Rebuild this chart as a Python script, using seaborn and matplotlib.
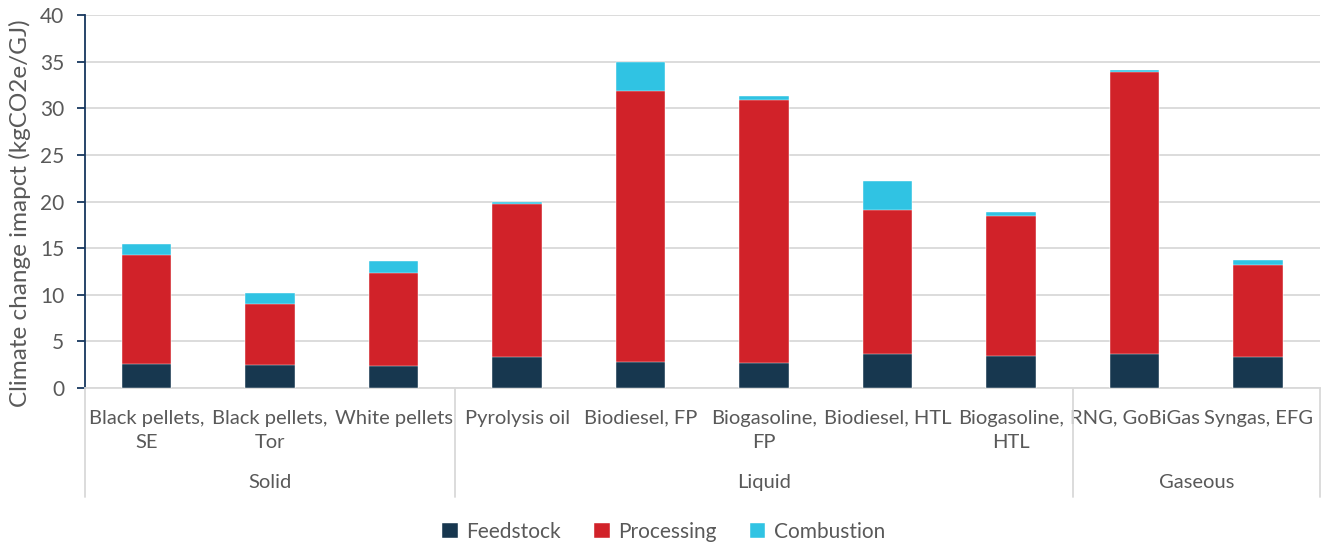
import numpy as np
import pandas as pd
import matplotlib
matplotlib.use("Agg")
import matplotlib.pyplot as plt
import seaborn as sns

# Fuel pathways, their phase group, and the stacked impact components
categories = ["Black pellets,\nSE", "Black pellets,\nTor", "White pellets",
              "Pyrolysis oil", "Biodiesel, FP", "Biogasoline,\nFP",
              "Biodiesel, HTL", "Biogasoline,\nHTL", "RNG, GoBiGas", "Syngas, EFG"]
groups = ["Solid", "Liquid", "Gaseous"]
group_sizes = [3, 5, 2]
feedstock = [2.54, 2.50, 2.39, 3.36, 2.75, 2.68, 3.60, 3.43, 3.65, 3.28]
processing = [11.76, 6.54, 9.98, 16.41, 29.10, 28.17, 15.45, 15.05, 30.20, 9.87]
combustion = [1.10, 1.11, 1.23, 0.23, 3.11, 0.45, 3.15, 0.42, 0.25, 0.58]
series = ["Feedstock", "Processing", "Combustion"]
colors = ["#17374F", "#D12229", "#30C3E3"]

sns.set_theme(style="white")
plt.rcParams["font.family"] = ["Lato", "DejaVu Sans"]

df = pd.DataFrame({"category": categories, "Feedstock": feedstock,
                   "Processing": processing, "Combustion": combustion})
# cumulative heights so each layer can be drawn on top of the previous one
df["cum_feed"] = df["Feedstock"]
df["cum_proc"] = df["cum_feed"] + df["Processing"]
df["cum_comb"] = df["cum_proc"] + df["Combustion"]

fig = plt.figure(figsize=(13.27, 5.46), dpi=100)
ax = fig.add_axes([0.064, 0.2894, 0.9306, 0.6831])

for col, color, name in [("cum_comb", colors[2], "Combustion"),
                         ("cum_proc", colors[1], "Processing"),
                         ("cum_feed", colors[0], "Feedstock")]:
    sns.barplot(data=df, x="category", y=col, order=categories, color=color,
                width=0.4, ax=ax, errorbar=None, saturation=1, label=name,
                edgecolor="white", linewidth=0.3, zorder=3)
if ax.get_legend() is not None:
    ax.get_legend().remove()

ax.set_xlim(-0.5, len(categories) - 0.5)
ax.set_ylim(0, 40)
ax.set_yticks(np.arange(0, 41, 5))
ax.grid(axis="y", color="#D9D9D9", linewidth=1.3, zorder=0)
ax.set_axisbelow(True)

for s in ["top", "right"]:
    ax.spines[s].set_visible(False)
ax.spines["left"].set_color("#17375E")
ax.spines["left"].set_linewidth(1.3)
ax.spines["bottom"].set_color("#D9D9D9")
ax.spines["bottom"].set_linewidth(1.3)

ax.tick_params(axis="y", which="both", left=True, length=6, width=1.3,
               color="#17375E", labelsize=15, labelcolor="#595959", pad=9)
ax.tick_params(axis="x", length=0, labelsize=14.5, labelcolor="#595959", pad=15.5)
for lbl in ax.get_xticklabels():
    lbl.set_linespacing(1.55)
ax.set_xlabel("")
ax.set_ylabel("Climate change imapct (kgCO2e/GJ)", fontsize=17.5,
              color="#595959")
ax.yaxis.set_label_coords(-0.044, 0.47)

# group labels and separators beneath the category labels
trans = ax.get_xaxis_transform()
bounds = np.concatenate([[0], np.cumsum(group_sizes)]) - 0.5
line_bottom = -(497 - 388) / 373
for b in bounds:
    ax.plot([b, b], [0, line_bottom], transform=trans, color="#D9D9D9",
            linewidth=1.3, clip_on=False)
for g, lo, hi in zip(groups, bounds[:-1], bounds[1:]):
    ax.text((lo + hi) / 2, -(483 - 388) / 373, g, transform=trans,
            ha="center", va="center", fontsize=14.5, color="#595959")

handles, labels = ax.get_legend_handles_labels()
order = [labels.index(n) for n in series]
fig.legend([handles[i] for i in order], [labels[i] for i in order],
           loc="center", bbox_to_anchor=(0.5, 1 - 532 / 546), ncol=3,
           frameon=False, fontsize=15, handlelength=0.75, handleheight=0.75,
           handletextpad=0.4, columnspacing=1.6, labelcolor="#595959")

fig.savefig("out.png", dpi=100)
